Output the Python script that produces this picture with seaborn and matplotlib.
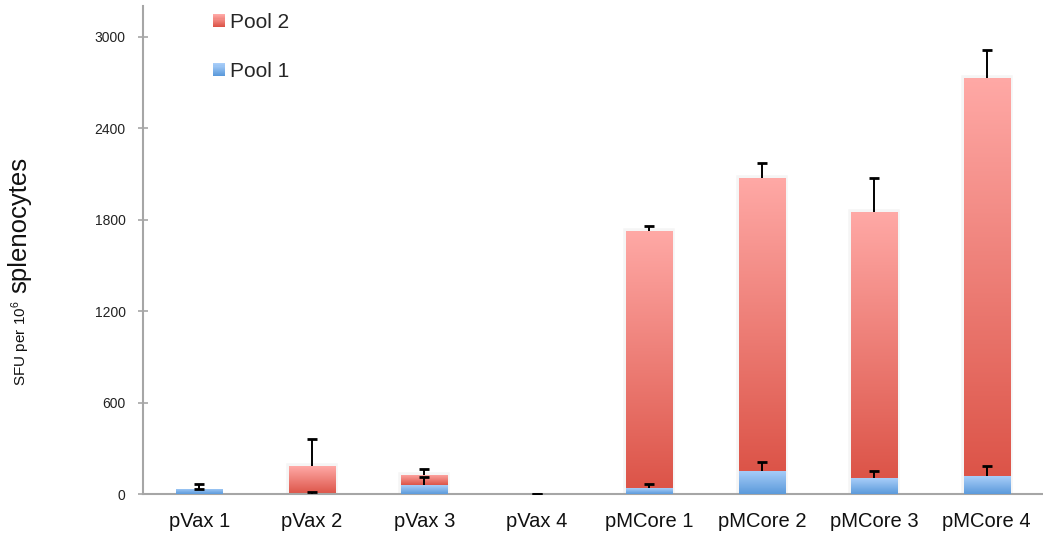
import numpy as np
import pandas as pd
import matplotlib
matplotlib.use("Agg")
import matplotlib.pyplot as plt
import matplotlib.patheffects as pe
from matplotlib.patches import Rectangle, Patch
from matplotlib.legend_handler import HandlerBase
from matplotlib.colors import LinearSegmentedColormap
import seaborn as sns

# ELISpot responses per immunisation group (SFU per 10^6 splenocytes)
groups = ["pVax 1", "pVax 2", "pVax 3", "pVax 4",
          "pMCore 1", "pMCore 2", "pMCore 3", "pMCore 4"]
pool1 = [33, 3, 59, 2, 39, 151, 105, 118]
pool1_err = [31, 12, 52, 0, 27, 59, 48, 66]
pool2 = [0, 181, 66, 0, 1688, 1924, 1747, 2613]
pool2_err = [0, 175, 37, 0, 31, 98, 223, 184]
y_ticks = [0, 600, 1200, 1800, 2400, 3000]

df = pd.DataFrame({"group": groups, "pool1": pool1, "pool2": pool2})
df["total"] = df["pool1"] + df["pool2"]

sns.set_style("white")
plt.rcParams["font.family"] = ["Liberation Sans", "DejaVu Sans"]
plt.rcParams["mathtext.fontset"] = "custom"
plt.rcParams["mathtext.rm"] = "Liberation Sans"

RED_TOP, RED_BOT = "#FFA9A6", "#DC5448"
BLUE_TOP, BLUE_BOT = "#A9CEF9", "#5B9ADB"
BAR_W = 0.41

fig = plt.figure(figsize=(10.43, 5.43), dpi=100)
ax = fig.add_axes([143 / 1043, 49 / 543, 900 / 1043, 488 / 543])

# stacked bars: totals first (Pool 2 on top), Pool 1 drawn over them
sns.barplot(data=df, x="group", y="total", color=RED_BOT, width=BAR_W,
            errorbar=None, saturation=1, ax=ax, zorder=2)
n_red = len(ax.patches)
sns.barplot(data=df, x="group", y="pool1", color=BLUE_BOT, width=BAR_W,
            errorbar=None, saturation=1, ax=ax, zorder=3)
red_bars = ax.patches[:n_red]
blue_bars = ax.patches[n_red:]


def gradient_fill(patch, y0, y1, top, bot, z):
    if y1 <= y0:
        return
    cmap = LinearSegmentedColormap.from_list("g", [bot, top])
    grad = np.linspace(0, 1, 256).reshape(-1, 1)
    x0 = patch.get_x()
    im = ax.imshow(grad, cmap=cmap, origin="lower", aspect="auto",
                   extent=[x0, x0 + patch.get_width(), y0, y1],
                   zorder=z, interpolation="bicubic")
    im.set_clip_path(patch)


for bar, lo, hi in zip(red_bars, df["pool1"], df["total"]):
    bar.set_linewidth(0)
    if hi - lo > 50:
        # soft drop shadow around the taller bars
        bar.set_path_effects([pe.Stroke(linewidth=4,
                                        foreground=(0, 0, 0, 0.04)),
                              pe.Normal()])
    gradient_fill(bar, lo, hi, RED_TOP, RED_BOT, 2.5)

for bar, hi in zip(blue_bars, df["pool1"]):
    bar.set_linewidth(0)
    gradient_fill(bar, 0, hi, BLUE_TOP, BLUE_BOT, 3.5)

# upper-only error bars for each segment: stems plus a cap at the top
xs = np.arange(len(groups))
for base, err in ((df["total"], pool2_err), (df["pool1"], pool1_err)):
    err = np.asarray(err)
    ax.errorbar(xs, base, yerr=[np.zeros(len(xs)), err], fmt="none",
                ecolor="black", elinewidth=1.4, capsize=0, zorder=5)
    ax.plot(xs, base + err, marker="_", linestyle="none", color="black",
            markersize=7, markeredgewidth=2.0, zorder=5)

# axes styling
ax.set_xlim(-0.5, -0.5 + 900 / 112.9)
ax.set_ylim(0, 3203)
ax.set_yticks(y_ticks)
ax.set_yticklabels([str(v) for v in y_ticks], fontsize=10, color="#222222")
ax.set_xticks(xs)
ax.set_xticklabels(groups, fontsize=14.5, color="#111111")
ax.set_xticks(np.arange(len(groups) + 1) - 0.5, minor=True)
ax.tick_params(axis="x", which="major", length=0, pad=13)
ax.tick_params(axis="x", which="minor", length=6, width=1.2, color="#A6A6A6",
               direction="out")
ax.tick_params(axis="y", which="major", length=7, width=1.2, color="#A6A6A6",
               direction="inout", pad=9, left=True)
ax.set_xlabel("")
ax.set_ylabel("")
for side in ("top", "right"):
    ax.spines[side].set_visible(False)
for side in ("left", "bottom"):
    ax.spines[side].set_color("#A6A6A6")
    ax.spines[side].set_linewidth(1.5)


class GradientHandler(HandlerBase):
    def __init__(self, top, bot):
        super().__init__()
        self.top, self.bot = top, bot

    def legend_artist(self, legend, orig_handle, fontsize, handlebox):
        w, h = handlebox.width, handlebox.height
        x0, y0 = handlebox.xdescent, handlebox.ydescent
        cmap = LinearSegmentedColormap.from_list("g", [self.bot, self.top])
        steps = 12
        art = None
        for i in range(steps):
            art = Rectangle((-x0, -y0 + h * i / steps), w, h / steps + 0.3,
                            facecolor=cmap(i / (steps - 1)), edgecolor="none",
                            transform=handlebox.get_transform())
            handlebox.add_artist(art)
        return art


h2 = Patch(label="Pool 2")
h1 = Patch(label="Pool 1")
ax.legend(handles=[h2, h1], labels=["Pool 2", "Pool 1"],
          handler_map={h2: GradientHandler(RED_TOP, RED_BOT),
                       h1: GradientHandler(BLUE_TOP, BLUE_BOT)},
          loc="upper left", bbox_to_anchor=(0.0756, 0.99), frameon=False,
          fontsize=15, handlelength=0.58, handleheight=0.58,
          handletextpad=0.25, labelspacing=1.45, borderpad=0.1,
          borderaxespad=0)

# y-axis title with mixed type sizes
fig.text(26 / 1043, (543 - 300) / 543, r"SFU per 10$^{6}$", rotation=90,
         rotation_mode="anchor", ha="right", va="baseline", fontsize=11,
         color="#111111")
fig.text(26 / 1043, (543 - 293) / 543, "splenocytes", rotation=90,
         rotation_mode="anchor", ha="left", va="baseline", fontsize=18.5,
         color="#111111")

fig.savefig("out.png", dpi=100)
